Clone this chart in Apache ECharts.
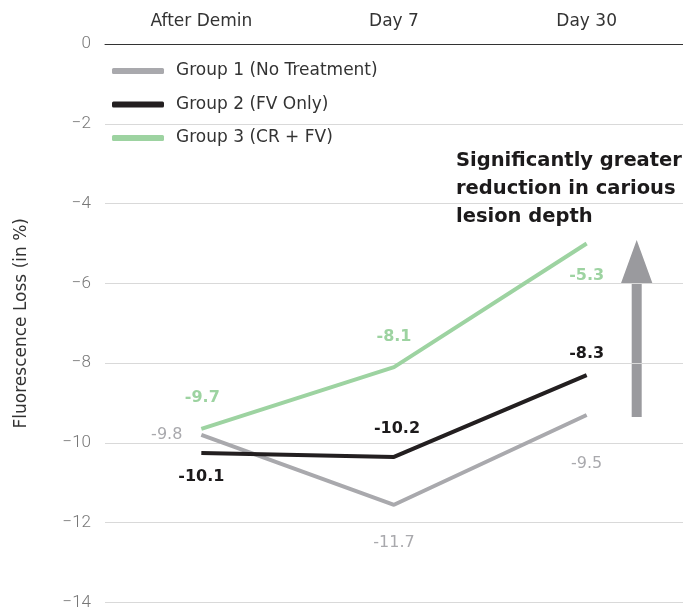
<!DOCTYPE html>
<html><head><meta charset="utf-8">
<script src="https://cdn.jsdelivr.net/npm/echarts@6/dist/echarts.min.js"></script>
<style>html,body{margin:0;padding:0;background:#fff}#c{width:683px;height:611px}</style>
</head><body><div id="c"></div>
<script>
const categories = ['After Demin', 'Day 7', 'Day 30'];
const group1 = [-9.8, -11.55, -9.3];
const group2 = [-10.25, -10.35, -8.3];
const group3 = [-9.65, -8.1, -5.0];
const group1Labels = ['-9.8', '-11.7', '-9.5'];
const group2Labels = ['-10.1', '-10.2', '-8.3'];
const group3Labels = ['-9.7', '-8.1', '-5.3'];
const seriesNames = ['Group 1 (No Treatment)', 'Group 2 (FV Only)', 'Group 3 (CR + FV)'];
const yTicks = [0, -2, -4, -6, -8, -10, -12, -14];

const FONT = 'DejaVu Sans';
const colors = ['#a9a9ad', '#231f20', '#9dd3a1'];

function mkData(vals, labels, pos, color, weight) {
  return vals.map((v, i) => ({
    value: v,
    label: {
      show: true, formatter: labels[i], color: color, fontFamily: FONT,
      fontSize: 16, fontWeight: weight,
      position: pos[i][0], offset: pos[i][1], distance: pos[i][2] || 8
    }
  }));
}

const chart = echarts.init(document.getElementById('c'));
chart.setOption({
  animation: false,
  grid: { left: 105, right: 0, top: 44, bottom: 7, containLabel: false },
  legend: {
    orient: 'vertical', left: 112, top: 61, itemGap: 13.5, padding: 0,
    itemWidth: 52, itemHeight: 6, icon: 'roundRect',
    textStyle: { fontFamily: FONT, fontSize: 17, color: '#333', lineHeight: 20, padding: [0, 0, 0, 7] },
    data: seriesNames
  },
  xAxis: {
    type: 'category', data: categories, position: 'top', boundaryGap: true,
    axisLine: { show: true, lineStyle: { color: '#333', width: 1 } },
    axisTick: { show: false },
    axisLabel: { fontFamily: FONT, fontSize: 17, color: '#333', margin: 14 }
  },
  yAxis: {
    type: 'value', min: -14, max: 0, interval: 2,
    name: 'Fluorescence Loss (in %)', nameLocation: 'middle', nameRotate: 90, nameGap: 75,
    nameTextStyle: { fontFamily: FONT, fontSize: 17, color: '#333' },
    axisLine: { show: false }, axisTick: { show: false },
    splitLine: { lineStyle: { color: '#d9d9d9', width: 1 } },
    axisLabel: { fontFamily: 'Roboto', fontSize: 17, fontWeight: 300, color: '#777', margin: 14,
      formatter: v => yTicks.indexOf(v) >= 0 ? String(v).replace('-', '\u2212') : '' }
  },
  series: [
    { name: seriesNames[0], type: 'line', symbol: 'circle', symbolSize: 0.01, showSymbol: true, z: 2,
      lineStyle: { color: colors[0], width: 4 }, itemStyle: { color: colors[0] },
      data: mkData(group1, group1Labels, [['left', [0, 0], 19], ['bottom', [0, 22]], ['bottom', [0, 33]]], '#a9a9ad', 'normal') },
    { name: seriesNames[1], type: 'line', symbol: 'circle', symbolSize: 0.01, showSymbol: true, z: 3,
      lineStyle: { color: colors[1], width: 4 }, itemStyle: { color: colors[1] },
      data: mkData(group2, group2Labels, [['bottom', [0, 8]], ['top', [3, -12]], ['top', [0, -5]]], '#1c1a1b', 'bold') },
    { name: seriesNames[2], type: 'line', symbol: 'circle', symbolSize: 0.01, showSymbol: true, z: 4,
      lineStyle: { color: colors[2], width: 4 }, itemStyle: { color: colors[2] },
      data: mkData(group3, group3Labels, [['top', [1, -15]], ['top', [0, -14]], ['bottom', [0, 16]]], '#9dd3a1', 'bold') }
  ],
  graphic: [
    { type: 'text', left: 456, top: 147,
      style: { text: 'Significantly greater\nreduction in carious\nlesion depth', fontFamily: FONT, fontSize: 19.5,
        fontWeight: 'bold', fill: '#1c1a1b', lineHeight: 28 } },
    { type: 'polygon', shape: { points: [[636.7, 240], [652.7, 284], [641.7, 284], [641.7, 417], [631.7, 417], [631.7, 284], [620.7, 284]] },
      style: { fill: '#9a9a9e' } }
  ]
});
</script></body></html>
